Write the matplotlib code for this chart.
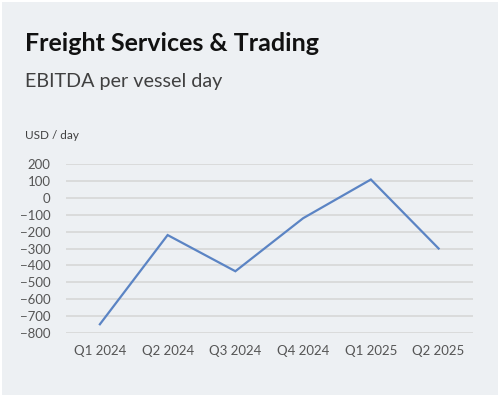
import matplotlib
matplotlib.use("Agg")
import matplotlib.pyplot as plt

quarters = ["Q1 2024", "Q2 2024", "Q3 2024", "Q4 2024", "Q1 2025", "Q2 2025"]
ebitda = [-750, -220, -435, -120, 110, -300]
yticks = [200, 100, 0, -100, -200, -300, -400, -500, -600, -700, -800]

bg = "#edf0f3"
plt.rcParams['font.family'] = ['Lato', 'DejaVu Sans']

fig = plt.figure(figsize=(5, 3.97), dpi=100, facecolor="white")
# panel background with a thin white border
fig.patches.append(plt.Rectangle((0.004, 0.005), 0.992, 0.99, transform=fig.transFigure,
                                 facecolor=bg, edgecolor="none", zorder=-1))

ax = fig.add_axes([0.132, 0.162, 0.813, 0.424])
ax.set_facecolor(bg)
ax.plot(range(len(quarters)), ebitda, color="#5b84c4", lw=1.6, solid_joinstyle="miter")

ax.set_xlim(-0.5, len(quarters) - 0.5)
ax.set_ylim(-800, 200)
ax.set_yticks(yticks)
ax.set_xticks(range(len(quarters)))
ax.set_xticklabels(quarters)
ax.grid(axis="y", color="#d9d9d9", lw=1.3)
ax.set_axisbelow(True)
for s in ax.spines.values():
    s.set_visible(False)
ax.tick_params(length=0, labelsize=9.5, colors="#555555")
ax.tick_params(axis="y", pad=11)
ax.tick_params(axis="x", pad=9)

fig.text(0.05, 0.872, "Freight Services & Trading", fontsize=18, fontweight="bold",
         color="#111111")
fig.text(0.05, 0.78, "EBITDA per vessel day", fontsize=14.2, color="#404040")
fig.text(0.05, 0.65, "USD / day", fontsize=8.5, color="#404040")

fig.savefig("out.png", dpi=100, facecolor="white")
